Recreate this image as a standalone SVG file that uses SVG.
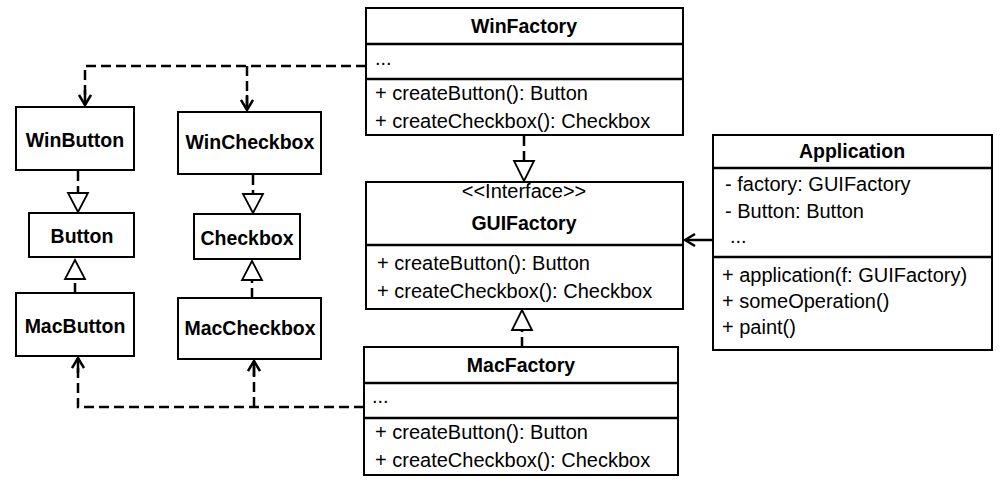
<svg xmlns="http://www.w3.org/2000/svg" width="1005" height="483" viewBox="0 0 1005 483">
<style>
.box{fill:#fff;stroke:#000;stroke-width:2}
.sep{stroke:#000;stroke-width:2.5}
.t{font-family:"Liberation Sans",Arial,sans-serif;font-size:20px;fill:#000}
.b{font-weight:bold;text-anchor:middle;font-size:19.5px}
.c{text-anchor:middle}
.dash{fill:none;stroke:#000;stroke-width:2.5;stroke-dasharray:10,5}
.solid{fill:none;stroke:#000;stroke-width:2.5}
.tri{fill:#fff;stroke:#000;stroke-width:1.8}
</style>
<defs>
<marker id="open" viewBox="0 0 12 14" refX="11" refY="7" markerWidth="12" markerHeight="14" markerUnits="userSpaceOnUse" orient="auto">
<path d="M1,1 L11,7 L1,13" fill="none" stroke="#000" stroke-width="2.5"/>
</marker>
</defs>
<g id="connectors">
<path class="dash" d="M366,66 H85 V105"/>
<path class="dash" d="M247,66 V110"/>
<path class="dash" d="M364,407 H78 V358"/>
<path class="dash" d="M254,407 V361"/>
<path class="solid" d="M85,90 V105" marker-end="url(#open)"/>
<path class="solid" d="M247,95 V110" marker-end="url(#open)"/>
<path class="solid" d="M78,373 V358" marker-end="url(#open)"/>
<path class="solid" d="M254,376 V361" marker-end="url(#open)"/>
<path class="solid" d="M713,240 H685" marker-end="url(#open)"/>
<path class="dash" d="M78,171 V192"/>
<polygon class="tri" points="68,193 88,193 78,212"/>
<path class="dash" d="M253,175 V193"/>
<polygon class="tri" points="243,194 263,194 253,213"/>
<path class="dash" d="M75,293 V280"/>
<polygon class="tri" points="65,279 85,279 75,260"/>
<path class="dash" d="M252,298 V281"/>
<polygon class="tri" points="242,280 262,280 252,261"/>
<path class="dash" d="M524,136 V160"/>
<polygon class="tri" points="514,161 534,161 524,181"/>
<path class="dash" d="M522,347 V331"/>
<polygon class="tri" points="512,330 532,330 522,310"/>
</g>
<g id="WinFactory">
<rect class="box" x="366" y="8" width="317" height="127"/>
<line class="sep" x1="366" y1="44" x2="683" y2="44"/>
<line class="sep" x1="366" y1="79" x2="683" y2="79"/>
<text class="t b" x="524" y="33">WinFactory</text>
<text class="t" x="375" y="65">...</text>
<text class="t" x="375" y="100">+ createButton(): Button</text>
<text class="t" x="375" y="128">+ createCheckbox(): Checkbox</text>
</g>
<g id="GUIFactory">
<rect class="box" x="366" y="182" width="317" height="127"/>
<line class="sep" x1="366" y1="245" x2="683" y2="245"/>
<text class="t c" x="524" y="198">&lt;&lt;Interface&gt;&gt;</text>
<text class="t b" x="524" y="230">GUIFactory</text>
<text class="t" x="377" y="270">+ createButton(): Button</text>
<text class="t" x="377" y="298">+ createCheckbox(): Checkbox</text>
</g>
<g id="MacFactory">
<rect class="box" x="364" y="347" width="314" height="128"/>
<line class="sep" x1="364" y1="383" x2="678" y2="383"/>
<line class="sep" x1="364" y1="418" x2="678" y2="418"/>
<text class="t b" x="521" y="372">MacFactory</text>
<text class="t" x="372" y="403">...</text>
<text class="t" x="375" y="439">+ createButton(): Button</text>
<text class="t" x="375" y="467">+ createCheckbox(): Checkbox</text>
</g>
<g id="Application">
<rect class="box" x="713" y="135" width="279" height="215"/>
<line class="sep" x1="713" y1="168" x2="992" y2="168"/>
<line class="sep" x1="713" y1="257" x2="992" y2="257"/>
<text class="t b" x="852" y="158">Application</text>
<text class="t" x="725" y="191">- factory: GUIFactory</text>
<text class="t" x="725" y="218">- Button: Button</text>
<text class="t" x="730" y="243">...</text>
<text class="t" x="722" y="282">+ application(f: GUIFactory)</text>
<text class="t" x="722" y="308">+ someOperation()</text>
<text class="t" x="722" y="334">+ paint()</text>
</g>
<g id="WinButton">
<rect class="box" x="16" y="107" width="118" height="63"/>
<text class="t b" x="75" y="147">WinButton</text>
</g>
<g id="WinCheckbox">
<rect class="box" x="178" y="112" width="143" height="62"/>
<text class="t b" x="250" y="149">WinCheckbox</text>
</g>
<g id="Button">
<rect class="box" x="29" y="213" width="105" height="44"/>
<text class="t b" x="82" y="243">Button</text>
</g>
<g id="Checkbox">
<rect class="box" x="194" y="214" width="106" height="45"/>
<text class="t b" x="247" y="245">Checkbox</text>
</g>
<g id="MacButton">
<rect class="box" x="16" y="293" width="118" height="63"/>
<text class="t b" x="75" y="333">MacButton</text>
</g>
<g id="MacCheckbox">
<rect class="box" x="178" y="298" width="143" height="61"/>
<text class="t b" x="250" y="335">MacCheckbox</text>
</g>
</svg>
